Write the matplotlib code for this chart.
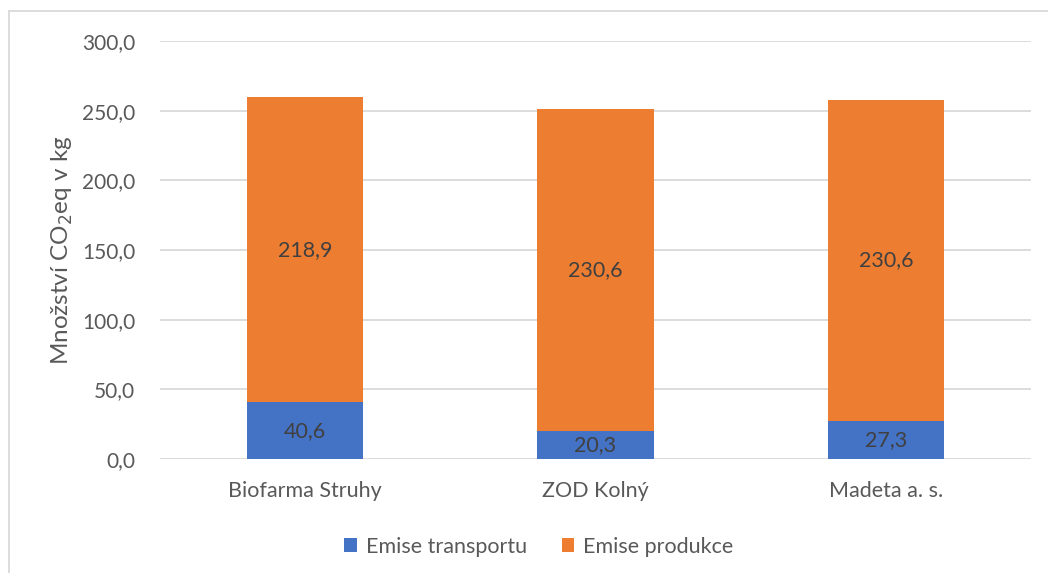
import numpy as np
import matplotlib.pyplot as plt
from matplotlib.ticker import FuncFormatter, MultipleLocator
from matplotlib.lines import Line2D

plt.rcParams['font.family'] = ['Lato', 'DejaVu Sans']

farms = ['Biofarma Struhy', 'ZOD Kolný', 'Madeta a. s.']
transport = [40.6, 20.3, 27.3]
production = [218.9, 230.6, 230.6]

blue = '#4472C4'
orange = '#ED7D31'
txt = '#595959'
label_col = '#404040'

fig = plt.figure(figsize=(10.48, 5.73), dpi=100)
ax = fig.add_axes([0.1527, 0.199, 0.8311, 0.7294])

x = np.arange(len(farms))
b1 = ax.bar(x, transport, width=0.40, color=blue, label='Emise transportu', zorder=3)
b2 = ax.bar(x, production, width=0.40, bottom=transport, color=orange,
            label='Emise produkce', zorder=3)

fmt = lambda v: f'{v:.1f}'.replace('.', ',')
ax.bar_label(b1, labels=[fmt(v) for v in transport], label_type='center',
             fontsize=15.5, color=label_col)
ax.bar_label(b2, labels=[fmt(v) for v in production], label_type='center',
             fontsize=15.5, color=label_col)

ax.set_xlim(-0.5, 2.5)
ax.set_ylim(0, 300)
ax.yaxis.set_major_locator(MultipleLocator(50))
ax.yaxis.set_major_formatter(FuncFormatter(lambda v, p: fmt(v)))
ax.set_xticks(x)
ax.set_xticklabels(farms)
ax.tick_params(axis='both', length=0, labelsize=15, colors=txt)
ax.tick_params(axis='x', labelsize=15.5, pad=16)
ax.tick_params(axis='y', pad=18)
ax.grid(axis='y', color='#D9D9D9', linewidth=1.3, zorder=0)
for s in ax.spines.values():
    s.set_visible(False)

ax.set_ylabel('Množství CO$_2$eq v kg', fontsize=17.5, color=txt, labelpad=5)

ax.legend(loc='upper center', bbox_to_anchor=(0.435, -0.14), ncol=2, frameon=False,
          fontsize=15.5, labelcolor=txt, handlelength=0.6, handleheight=0.6,
          columnspacing=1.6, handletextpad=0.4)

# chart border (top and left visible)
fig.add_artist(Line2D([0.0086, 1.0], [0.981, 0.981], color='#D9D9D9', lw=1.3))
fig.add_artist(Line2D([0.0086, 0.0086], [0.0, 0.981], color='#D9D9D9', lw=1.3))

fig.savefig('out.png', dpi=100, facecolor='white')
